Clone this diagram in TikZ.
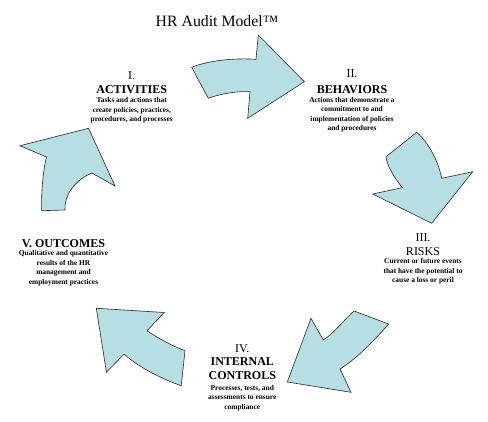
\documentclass[tikz,border=0pt]{standalone}
\usepackage{fontspec}
\setmainfont{Liberation Serif}
\definecolor{arrowfill}{RGB}{183,222,227}
\definecolor{arrowline}{RGB}{40,40,40}
\tikzset{
  bigarrow/.style={fill=arrowfill, draw=arrowline, line width=0.6pt, line join=miter},
  ttl/.style={font=\fontsize{15.8}{18}\selectfont, anchor=base, inner sep=0pt},
  num/.style={font=\fontsize{12}{14}\selectfont, anchor=base, inner sep=0pt},
  hname/.style={font=\fontsize{12}{14}\selectfont\bfseries, anchor=base, inner sep=0pt},
  desc/.style={font=\fontsize{7.4}{9.4}\selectfont\bfseries, align=center, anchor=north, inner sep=0pt}
}
\begin{document}
\begin{tikzpicture}[x=1pt,y=-1pt]
\useasboundingbox (0,0) rectangle (488,422);
\fill[white] (0,0) rectangle (488,422);

% title
\node[ttl] (title) at (217,26.5) {HR Audit Model™};

% arrows
\draw[bigarrow] (191.7,67.3) .. controls (210,60) and (235,58) .. (256,59.3)
  -- (258.3,35) -- (304.3,81.7) -- (247.7,118.3) -- (250,91.7)
  .. controls (235,91) and (220,94) .. (208.3,98.3) -- cycle;

\draw[bigarrow] (386,156.7) -- (416.7,132.3)
  .. controls (428,142) and (438,160) .. (441.7,178.3)
  -- (472.7,171.7) -- (431.7,223.3) -- (372.7,194) -- (402.3,187.7)
  .. controls (394,177) and (387,166) .. cycle;

\draw[bigarrow] (354,311) -- (388.5,324)
  .. controls (375,340) and (355,360) .. (340,369)
  -- (351,392.3) -- (287.3,382) -- (311,318.3) -- (323.3,340)
  .. controls (333,334) and (344,320) .. cycle;

\draw[bigarrow] (96.3,308.3) -- (164.2,312.5) -- (147,330.7)
  .. controls (158,338) and (172,346) .. (185,350.7)
  -- (181.2,385.7)
  .. controls (162,379) and (140,368) .. (124,354.2)
  -- (106.4,372.2) -- cycle;

\draw[bigarrow] (41.7,210.7) -- (65,210)
  .. controls (64,195) and (75,180) .. (92,173)
  -- (115,186) -- (88.5,128.3) -- (20,145.7) -- (46.5,157)
  .. controls (43,170) and (41,195) .. cycle;

% I. Activities
\node[num] (n1) at (131.7,80) {I.};
\node[hname] (h1) at (131.7,94) {ACTIVITIES};
\node[desc] (d1) at (131.7,97.5) {Tasks and actions that\\create policies, practices,\\procedures, and processes};

% II. Behaviors
\node[num] (n2) at (352,78) {II.};
\node[hname] (h2) at (352,94) {BEHAVIORS};
\node[desc] (d2) at (352,97) {Actions that demonstrate a\\commitment to and\\implementation of policies\\and procedures};

% III. Risks
\node[num] (n3) at (423,242) {III.};
\node[num] (h3) at (423,256) {RISKS};
\node[desc] (d3) at (423,258.5) {Current or future events\\that have the potential to\\cause a loss or peril};

% IV. Internal controls
\node[num] (n4) at (242.3,352.3) {IV.};
\node[hname] (h4a) at (242.3,366) {INTERNAL};
\node[hname] (h4b) at (242.3,379.7) {CONTROLS};
\node[desc] (d4) at (242.3,385) {Processes, tests, and\\assessments to ensure\\compliance};

% V. Outcomes
\node[hname] (h5) at (63.5,247.3) {V. OUTCOMES};
\node[desc] (d5) at (63.5,250.5) {Qualitative and quantitative\\results of the HR\\management and\\employment practices};
\end{tikzpicture}
\end{document}
